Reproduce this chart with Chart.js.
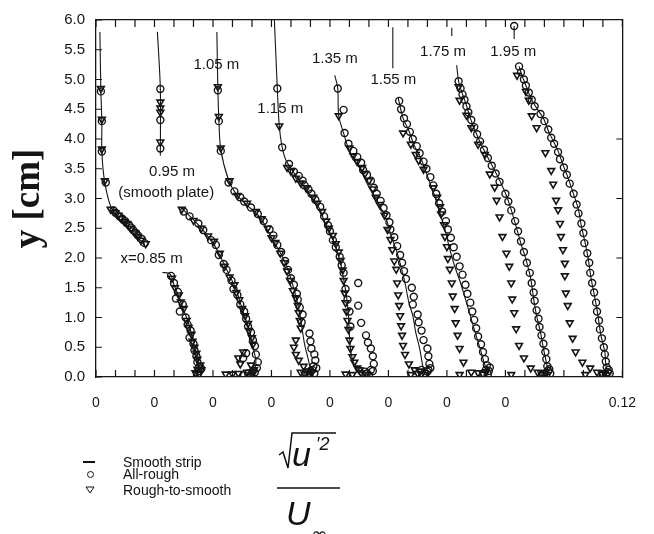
<!DOCTYPE html>
<html>
<head>
<meta charset="utf-8">
<script src="https://cdn.jsdelivr.net/npm/chart.js@4.4.1/dist/chart.umd.min.js"></script>
<style>
  body { margin: 0; background: #fff; }
  #wrap { position: relative; width: 654px; height: 534px; overflow: hidden; }
  #wrap canvas { position: absolute; left: 0; top: 0; }
  .lg { position: absolute; font: 14px "Liberation Sans", Arial, sans-serif; color: #111; line-height: 14px; white-space: nowrap; }
</style>
</head>
<body>
<div id="wrap">
  <canvas id="GraficaPerfiles" width="654" height="534"></canvas>
  <div style="position:absolute;left:83px;top:461px;width:12px;height:1.5px;background:#111"></div>
  <div class="lg" style="left:123px;top:455px">Smooth strip</div>
  <div style="position:absolute;left:87px;top:471px;width:5px;height:5px;border:1px solid #111;border-radius:50%"></div>
  <div class="lg" style="left:123px;top:467px">All-rough</div>
  <svg style="position:absolute;left:85px;top:485px" width="10" height="10"><polygon points="1,2 9,2 5,8" fill="none" stroke="#111" stroke-width="1"/></svg>
  <div class="lg" style="left:123px;top:483px">Rough-to-smooth</div>
  <svg style="position:absolute;left:270px;top:425px" width="90" height="109">
    <path d="M9 30 L13 27 L18 43 L22 8 L66 8" fill="none" stroke="#111" stroke-width="1.5"/>
    <text x="22" y="41" font-family="Liberation Sans, Arial, sans-serif" font-style="italic" font-size="34" fill="#111">u</text>
    <text x="46" y="25" font-family="Liberation Sans, Arial, sans-serif" font-style="italic" font-size="18" fill="#111">′2</text>
    <line x1="7" y1="63" x2="70" y2="63" stroke="#111" stroke-width="1.5"/>
    <text x="16" y="100" font-family="Liberation Sans, Arial, sans-serif" font-style="italic" font-size="34" fill="#111">U</text>
    <text x="41" y="116" font-family="DejaVu Sans, sans-serif" font-size="20" fill="#111">∞</text>
  </svg>
</div>
<script>
// estaciones x (m) y desplazamiento de cada perfil en el eje horizontal
var stations = ['0.85', '0.95', '1.05', '1.15', '1.35', '1.55', '1.75', '1.95'];
var offsets = [0, 0.06, 0.12, 0.18, 0.24, 0.30, 0.36, 0.42];

// pares [u'/U, y cm]; null = hueco en la linea
var strip085 = [[0.004,5.80],[0.005,4.80],[0.006,4.30],[0.006,3.79],[0.009,3.27],[0.016,2.83],[0.029,2.56],[0.050,2.23],null,[0.068,1.76],[0.076,1.73],[0.080,1.55],[0.085,1.35],[0.090,1.12],[0.095,0.90],[0.099,0.65],[0.102,0.42],[0.105,0.20],[0.106,0.08]];
var rough085 = [[0.005,4.80],[0.006,4.30],[0.006,3.79],[0.010,3.27],[0.018,2.80],[0.020,2.76],[0.024,2.70],[0.027,2.66],[0.030,2.62],[0.034,2.55],[0.036,2.51],[0.038,2.47],[0.041,2.42],[0.043,2.38],[0.047,2.32],[0.050,2.25],[0.077,1.70],[0.080,1.58],[0.084,1.43],[0.082,1.32],[0.089,1.22],[0.086,1.10],[0.092,1.00],[0.094,0.88],[0.097,0.78],[0.096,0.66],[0.100,0.56],[0.101,0.45],[0.103,0.35],[0.104,0.25],[0.106,0.17],[0.105,0.10],[0.104,0.05],[0.108,0.14]];
var r2s085 = [[0.005,4.85],[0.006,4.33],[0.006,3.83],[0.009,3.30],[0.015,2.82],[0.020,2.76],[0.023,2.72],[0.026,2.66],[0.029,2.61],[0.032,2.58],[0.036,2.50],[0.040,2.42],[0.043,2.36],[0.046,2.30],[0.051,2.24],[0.078,1.66],[0.081,1.50],[0.085,1.38],[0.087,1.26],[0.090,1.15],[0.093,0.95],[0.095,0.83],[0.098,0.72],[0.099,0.60],[0.101,0.50],[0.103,0.40],[0.104,0.30],[0.107,0.20],[0.104,0.13],[0.108,0.12],[0.102,0.07],[0.106,0.05]];

var strip095 = [[0.003,5.80],[0.006,4.84],[0.006,3.72],null,[0.027,2.85],[0.042,2.61],[0.053,2.40],[0.062,2.20],[0.069,1.98],[0.076,1.74],[0.083,1.50],[0.088,1.25],[0.093,1.00],[0.098,0.75],[0.101,0.50],[0.104,0.28],[0.103,0.14],[0.097,0.05]];
var rough095 = [[0.006,4.84],[0.006,4.32],[0.006,3.84],[0.030,2.78],[0.036,2.70],[0.045,2.58],[0.050,2.47],[0.058,2.30],[0.063,2.22],[0.066,2.05],[0.071,1.90],[0.074,1.80],[0.079,1.62],[0.081,1.48],[0.085,1.38],[0.088,1.22],[0.092,1.10],[0.094,0.98],[0.096,0.85],[0.099,0.75],[0.101,0.62],[0.103,0.52],[0.094,0.40],[0.091,0.32],[0.104,0.38],[0.106,0.25],[0.105,0.15],[0.101,0.10],[0.096,0.06],[0.099,0.04],[0.103,0.08],[0.092,0.03]];
var r2s095 = [[0.006,4.62],[0.006,4.52],[0.006,4.45],[0.006,3.95],[0.028,2.82],[0.040,2.63],[0.048,2.50],[0.055,2.37],[0.061,2.28],[0.067,2.08],[0.072,1.86],[0.077,1.68],[0.082,1.55],[0.084,1.42],[0.087,1.30],[0.090,1.15],[0.093,1.03],[0.096,0.90],[0.097,0.78],[0.100,0.66],[0.101,0.55],[0.091,0.42],[0.086,0.32],[0.088,0.22],[0.099,0.20],[0.102,0.12],[0.073,0.05],[0.080,0.05],[0.086,0.06],[0.095,0.08],[0.100,0.04]];

var strip105 = [[0.004,5.80],[0.005,4.85],[0.006,4.35],[0.008,3.82],[0.016,3.31],[0.024,3.07],[0.034,2.90],[0.048,2.69],[0.054,2.53],[0.061,2.31],[0.071,2.03],[0.078,1.75],[0.083,1.48],[0.088,1.15],[0.091,0.86],[0.094,0.55],[0.098,0.28],[0.101,0.05]];
var rough105 = [[0.005,4.82],[0.006,4.30],[0.008,3.80],[0.016,3.27],[0.022,3.12],[0.028,3.02],[0.032,2.95],[0.039,2.85],[0.046,2.74],[0.052,2.62],[0.058,2.48],[0.062,2.38],[0.066,2.22],[0.070,2.10],[0.074,1.95],[0.077,1.80],[0.080,1.66],[0.083,1.55],[0.086,1.40],[0.087,1.30],[0.089,1.17],[0.092,1.05],[0.091,0.92],[0.099,0.73],[0.100,0.60],[0.101,0.48],[0.104,0.38],[0.105,0.28],[0.103,0.18],[0.100,0.10],[0.104,0.06],[0.097,0.04],[0.102,0.12],[0.106,0.15],[0.099,0.03]];
var r2s105 = [[0.005,4.88],[0.006,4.38],[0.008,3.85],[0.017,3.30],[0.025,3.05],[0.035,2.92],[0.044,2.78],[0.050,2.66],[0.056,2.50],[0.060,2.34],[0.064,2.26],[0.069,2.08],[0.073,1.92],[0.076,1.78],[0.079,1.62],[0.082,1.45],[0.085,1.33],[0.087,1.20],[0.088,1.08],[0.089,0.95],[0.090,0.82],[0.085,0.62],[0.083,0.50],[0.085,0.38],[0.088,0.28],[0.093,0.18],[0.097,0.10],[0.094,0.05],[0.090,0.08],[0.099,0.04],[0.101,0.07]];

var strip115 = [[0.003,6.00],[0.006,4.85],[0.008,4.22],[0.011,3.86],[0.015,3.64],[0.024,3.41],[0.036,3.14],[0.049,2.84],[0.055,2.58],[0.062,2.36],[0.067,2.14],[0.071,1.91],[0.074,1.65],[0.077,1.36],[0.079,1.03],[0.080,0.70],[0.082,0.37],[0.088,0.07]];
var rough115 = [[0.006,4.85],[0.011,3.86],[0.018,3.58],[0.023,3.45],[0.028,3.38],[0.032,3.30],[0.034,3.22],[0.038,3.15],[0.041,3.08],[0.045,2.98],[0.050,2.86],[0.054,2.70],[0.058,2.55],[0.060,2.45],[0.063,2.30],[0.066,2.18],[0.070,2.02],[0.072,1.88],[0.074,1.75],[0.089,1.58],[0.076,1.48],[0.078,1.30],[0.089,1.20],[0.080,1.10],[0.092,0.91],[0.081,0.85],[0.097,0.70],[0.099,0.58],[0.102,0.48],[0.104,0.35],[0.105,0.22],[0.102,0.12],[0.098,0.06],[0.100,0.03],[0.104,0.10],[0.096,0.09]];
var r2s115 = [[0.008,4.22],[0.016,3.52],[0.020,3.46],[0.025,3.34],[0.030,3.26],[0.036,3.18],[0.043,3.02],[0.047,2.92],[0.052,2.78],[0.056,2.62],[0.059,2.50],[0.063,2.38],[0.066,2.24],[0.069,2.10],[0.071,1.96],[0.073,1.80],[0.074,1.62],[0.075,1.41],[0.076,1.25],[0.077,1.10],[0.078,0.95],[0.079,0.80],[0.080,0.62],[0.081,0.48],[0.083,0.34],[0.085,0.25],[0.088,0.15],[0.076,0.05],[0.083,0.04],[0.092,0.07],[0.097,0.04],[0.090,0.12]];

var strip135 = [[0.005,5.07],[0.008,4.85],[0.009,4.39],[0.014,4.10],[0.020,3.80],[0.030,3.52],[0.040,3.19],[0.050,2.91],[0.058,2.64],[0.063,2.36],[0.068,2.14],[0.072,1.91],[0.077,1.58],[0.081,1.25],[0.085,1.03],[0.088,0.75],[0.092,0.48],[0.095,0.20],[0.097,0.05]];
var rough135 = [[0.008,4.85],[0.014,4.49],[0.015,4.10],[0.019,3.92],[0.024,3.80],[0.028,3.70],[0.032,3.60],[0.034,3.48],[0.038,3.40],[0.042,3.30],[0.045,3.18],[0.048,3.08],[0.052,2.96],[0.055,2.84],[0.058,2.72],[0.061,2.60],[0.062,2.48],[0.066,2.35],[0.069,2.20],[0.072,2.05],[0.074,1.92],[0.076,1.78],[0.078,1.65],[0.084,1.50],[0.086,1.35],[0.085,1.22],[0.090,1.05],[0.091,0.92],[0.094,0.78],[0.096,0.62],[0.100,0.48],[0.101,0.35],[0.102,0.22],[0.101,0.12],[0.098,0.06],[0.096,0.03],[0.100,0.09],[0.103,0.15],[0.094,0.12]];
var r2s135 = [[0.009,4.39],[0.020,3.85],[0.024,3.72],[0.028,3.62],[0.033,3.52],[0.036,3.42],[0.040,3.30],[0.044,3.16],[0.047,3.02],[0.051,2.90],[0.056,2.72],[0.059,2.48],[0.062,2.31],[0.064,2.14],[0.066,1.95],[0.068,1.81],[0.069,1.58],[0.070,1.38],[0.071,1.20],[0.072,1.03],[0.073,0.86],[0.074,0.70],[0.075,0.53],[0.077,0.38],[0.081,0.22],[0.087,0.12],[0.083,0.04],[0.090,0.06],[0.094,0.04],[0.092,0.10]];

var strip155 = [[0.0045,5.88],[0.0045,5.19],null,[0.010,4.69],[0.015,4.35],[0.021,4.14],[0.026,3.91],[0.033,3.69],[0.038,3.47],[0.043,3.24],[0.048,3.02],[0.053,2.74],[0.058,2.48],[0.063,2.14],[0.068,1.86],[0.074,1.58],[0.079,1.31],[0.084,1.03],[0.089,0.75],[0.094,0.48],[0.099,0.20],[0.102,0.05]];
var rough155 = [[0.011,4.64],[0.013,4.50],[0.016,4.35],[0.019,4.25],[0.022,4.12],[0.025,4.00],[0.029,3.88],[0.032,3.76],[0.036,3.62],[0.039,3.50],[0.043,3.36],[0.046,3.22],[0.049,3.08],[0.052,2.92],[0.055,2.78],[0.059,2.62],[0.061,2.48],[0.064,2.34],[0.067,2.18],[0.070,2.02],[0.073,1.86],[0.076,1.72],[0.079,1.55],[0.081,1.40],[0.084,1.25],[0.086,1.10],[0.088,0.96],[0.090,0.82],[0.092,0.68],[0.095,0.55],[0.097,0.42],[0.099,0.30],[0.101,0.20],[0.100,0.12],[0.098,0.06],[0.103,0.10],[0.097,0.03],[0.102,0.04],[0.104,0.16]];
var r2s155 = [[0.015,4.10],[0.023,3.91],[0.028,3.74],[0.031,3.64],[0.036,3.49],[0.046,3.18],[0.050,3.02],[0.053,2.86],[0.054,2.74],[0.057,2.56],[0.058,2.36],[0.060,2.19],[0.061,1.99],[0.063,1.81],[0.065,1.58],[0.066,1.36],[0.068,1.15],[0.069,0.91],[0.071,0.70],[0.073,0.48],[0.077,0.25],[0.085,0.08],[0.073,0.04],[0.092,0.07],[0.097,0.05],[0.100,0.09]];

var strip175 = [[0.005,5.87],[0.005,5.73],null,[0.010,5.24],[0.012,4.97],[0.015,4.80],[0.020,4.57],[0.024,4.35],[0.029,4.14],[0.035,3.91],[0.042,3.69],[0.049,3.47],[0.056,3.24],[0.061,3.05],[0.066,2.81],[0.071,2.53],[0.076,2.24],[0.081,1.98],[0.086,1.65],[0.089,1.31],[0.092,1.03],[0.096,0.75],[0.099,0.48],[0.102,0.25],[0.104,0.07]];
var rough175 = [[0.012,4.97],[0.014,4.85],[0.016,4.75],[0.018,4.66],[0.020,4.55],[0.022,4.45],[0.025,4.32],[0.028,4.20],[0.031,4.08],[0.034,3.96],[0.038,3.82],[0.042,3.68],[0.046,3.55],[0.050,3.42],[0.054,3.28],[0.060,3.08],[0.063,2.95],[0.066,2.80],[0.070,2.62],[0.073,2.45],[0.076,2.28],[0.079,2.10],[0.082,1.92],[0.085,1.75],[0.087,1.58],[0.089,1.42],[0.090,1.28],[0.092,1.12],[0.094,0.98],[0.095,0.84],[0.097,0.70],[0.099,0.56],[0.101,0.42],[0.102,0.30],[0.103,0.18],[0.104,0.10],[0.100,0.06],[0.102,0.04],[0.105,0.13],[0.098,0.03],[0.106,0.06]];
var r2s175 = [[0.012,4.88],[0.013,4.65],[0.020,4.40],[0.025,4.19],[0.032,3.91],[0.039,3.74],[0.044,3.41],[0.049,3.19],[0.051,2.97],[0.054,2.69],[0.057,2.36],[0.061,2.08],[0.064,1.86],[0.066,1.58],[0.067,1.31],[0.069,1.08],[0.071,0.81],[0.074,0.53],[0.079,0.32],[0.086,0.15],[0.066,0.04],[0.093,0.08],[0.097,0.05],[0.101,0.07]];

var strip195 = [[0.009,5.90],[0.009,5.68],null,[0.014,5.22],[0.017,5.07],[0.021,4.90],[0.026,4.69],[0.032,4.52],[0.039,4.35],[0.044,4.14],[0.049,3.97],[0.054,3.80],[0.059,3.57],[0.064,3.36],[0.070,3.07],[0.075,2.81],[0.078,2.53],[0.082,2.24],[0.085,1.98],[0.088,1.65],[0.092,1.31],[0.095,1.03],[0.098,0.70],[0.102,0.42],[0.103,0.20],[0.105,0.07]];
var rough195 = [[0.009,5.90],[0.014,5.22],[0.016,5.12],[0.019,5.00],[0.021,4.90],[0.024,4.78],[0.027,4.66],[0.030,4.55],[0.036,4.42],[0.040,4.30],[0.044,4.16],[0.047,4.02],[0.050,3.92],[0.054,3.78],[0.056,3.66],[0.060,3.52],[0.063,3.40],[0.066,3.25],[0.070,3.08],[0.073,2.90],[0.075,2.75],[0.078,2.58],[0.080,2.42],[0.081,2.25],[0.084,2.08],[0.086,1.92],[0.087,1.75],[0.089,1.58],[0.091,1.42],[0.093,1.25],[0.094,1.10],[0.096,0.95],[0.097,0.80],[0.099,0.65],[0.101,0.50],[0.102,0.38],[0.103,0.26],[0.104,0.16],[0.105,0.08],[0.103,0.04],[0.106,0.12],[0.100,0.03],[0.107,0.06]];
var r2s195 = [[0.012,5.07],[0.021,4.80],[0.024,4.65],[0.027,4.39],[0.032,4.19],[0.041,3.77],[0.047,3.47],[0.049,3.24],[0.052,2.97],[0.054,2.81],[0.056,2.58],[0.057,2.36],[0.059,2.14],[0.061,1.91],[0.061,1.70],[0.062,1.41],[0.064,1.20],[0.066,0.91],[0.069,0.65],[0.072,0.42],[0.079,0.25],[0.087,0.15],[0.082,0.04],[0.094,0.08],[0.099,0.05],[0.102,0.07]];

// textos sobre la grafica: [texto, x global, y cm]
var notes = [
    ['x=0.85 m', 0.057, 1.98],
    ['0.95 m', 0.078, 3.44],
    ['(smooth plate)', 0.072, 3.09],
    ['1.05 m', 0.1235, 5.24],
    ['1.15 m', 0.189, 4.50],
    ['1.35 m', 0.245, 5.35],
    ['1.55 m', 0.305, 4.99],
    ['1.75 m', 0.356, 5.47],
    ['1.95 m', 0.428, 5.47]
];
var rightTicks = [1, 2, 3, 4];

var strips = [strip085, strip095, strip105, strip115, strip135, strip155, strip175, strip195];
var roughs = [rough085, rough095, rough105, rough115, rough135, rough155, rough175, rough195];
var r2ss = [r2s085, r2s095, r2s105, r2s115, r2s135, r2s155, r2s175, r2s195];

var INK = '#151515';

function Puntos(arr, off){
    return arr.map(function(p){
        return p ? {x: off + p[0], y: p[1]} : {x: null, y: null};
    });
}

var datasets = [];
for (var i = 0; i < stations.length; i++) {
    datasets.push({
        label: 'Smooth strip ' + stations[i],
        data: Puntos(strips[i], offsets[i]),
        showLine: true,
        borderColor: INK,
        borderWidth: 1.1,
        pointRadius: 0,
        tension: 0.3,
        spanGaps: false
    });
    datasets.push({
        label: 'All-rough ' + stations[i],
        data: Puntos(roughs[i], offsets[i]),
        showLine: false,
        pointStyle: 'circle',
        pointRadius: 3.5,
        borderWidth: 1.4,
        borderColor: INK,
        backgroundColor: 'rgba(255,255,255,0)'
    });
    datasets.push({
        label: 'Rough-to-smooth ' + stations[i],
        data: Puntos(r2ss[i], offsets[i]),
        showLine: false,
        pointStyle: 'triangle',
        rotation: 180,
        pointRadius: 3.9,
        borderWidth: 1.6,
        borderColor: INK,
        backgroundColor: 'rgba(255,255,255,0)'
    });
}

var marcas = {
    id: 'marcas',
    afterDraw: function(chart){
        var ctx = chart.ctx, a = chart.chartArea;
        var sx = chart.scales.x, sy = chart.scales.y;
        ctx.save();
        ctx.strokeStyle = INK;
        ctx.lineWidth = 1.2;
        ctx.beginPath();
        sx.ticks.forEach(function(t){
            var p = sx.getPixelForValue(t.value);
            ctx.moveTo(p, a.bottom); ctx.lineTo(p, a.bottom - 7);
            ctx.moveTo(p, a.top); ctx.lineTo(p, a.top + 7);
        });
        sy.ticks.forEach(function(t){
            var p = sy.getPixelForValue(t.value);
            ctx.moveTo(a.left, p); ctx.lineTo(a.left + 6, p);
        });
        rightTicks.forEach(function(v){
            var p = sy.getPixelForValue(v);
            ctx.moveTo(a.right, p); ctx.lineTo(a.right - 6, p);
        });
        ctx.stroke();
        ctx.fillStyle = INK;
        ctx.font = '15px "Liberation Sans", Arial, sans-serif';
        ctx.textAlign = 'center';
        ctx.textBaseline = 'middle';
        notes.forEach(function(n){
            ctx.fillText(n[0], sx.getPixelForValue(n[1]), sy.getPixelForValue(n[2]));
        });
        ctx.restore();
    }
};

var ctx = document.getElementById('GraficaPerfiles');
var myChart = new Chart(ctx, {
    type: 'scatter',
    data: { datasets: datasets },
    plugins: [marcas],
    options: {
        responsive: false,
        animation: false,
        layout: { padding: { top: 16, right: 25, left: 0, bottom: 0 } },
        plugins: { legend: { display: false }, tooltip: { enabled: false } },
        scales: {
            x: {
                type: 'linear', position: 'bottom', min: 0, max: 0.54,
                grid: { display: false, drawTicks: false },
                border: { display: true, color: INK, width: 1.3 },
                ticks: {
                    stepSize: 0.02, autoSkip: false, maxRotation: 0, padding: 18,
                    color: INK, font: { family: 'Liberation Sans', size: 14 },
                    callback: function(v, idx){
                        if (idx === 27) return '0.12';
                        if (idx % 3 === 0 && idx <= 21) return '0';
                        return '';
                    }
                },
                afterFit: function(s){ s.height = 157; }
            },
            xTop: {
                type: 'linear', position: 'top', min: 0, max: 0.54,
                grid: { display: false, drawTicks: false },
                border: { display: true, color: INK, width: 1.3 },
                ticks: { display: false },
                afterFit: function(s){ s.height = 0; }
            },
            y: {
                type: 'linear', position: 'left', min: 0, max: 6,
                grid: { display: false, drawTicks: false },
                border: { display: true, color: INK, width: 1.3 },
                ticks: {
                    stepSize: 0.5, padding: 11, color: INK,
                    font: { family: 'Liberation Sans', size: 15 },
                    callback: function(v){ return v.toFixed(1); }
                },
                title: {
                    display: true, text: 'y [cm]', color: INK,
                    font: { family: 'Liberation Serif', size: 37, weight: 'bold' },
                    padding: { top: 7, bottom: 0 }
                },
                afterFit: function(s){ s.width = 96; }
            },
            yRight: {
                type: 'linear', position: 'right', min: 0, max: 6,
                grid: { display: false, drawTicks: false },
                border: { display: true, color: INK, width: 1.3 },
                ticks: { display: false },
                afterFit: function(s){ s.width = 0; }
            }
        }
    }
});
</script>
</body>
</html>
